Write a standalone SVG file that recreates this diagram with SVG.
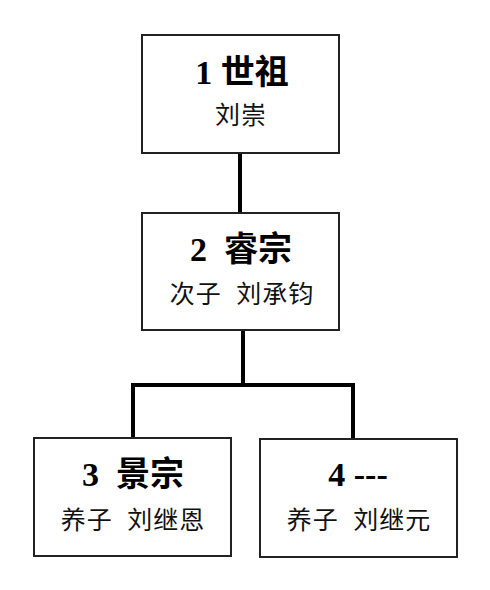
<svg xmlns="http://www.w3.org/2000/svg" width="490" height="590" viewBox="0 0 490 590">
<style>
.box{fill:#fff;stroke:#222;stroke-width:2}
.t{font-family:"Liberation Serif","Noto Sans CJK SC",serif;font-weight:bold;font-size:34px;fill:#000;text-anchor:middle}
.s{font-family:"Liberation Serif","Noto Sans CJK SC",serif;font-size:25px;letter-spacing:1px;fill:#111;text-anchor:middle}
.c{fill:none;stroke:#000;stroke-width:4}
</style>
<rect width="490" height="590" fill="#fff"/>
<g id="connectors">
<line class="c" x1="240" y1="153" x2="240" y2="213"/>
<polyline class="c" points="133,438 133,385 353,385 353,439"/>
<line class="c" x1="243" y1="330" x2="243" y2="385"/>
</g>
<g id="n1">
<rect class="box" x="142" y="35" width="197" height="118"/>
<text class="t" x="242" y="84">1 世祖</text>
<text class="s" x="241" y="124">刘崇</text>
</g>
<g id="n2">
<rect class="box" x="142" y="213" width="197" height="117"/>
<text class="t" x="241" y="261" xml:space="preserve">2  睿宗</text>
<text class="s" x="242" y="303" xml:space="preserve">次子  刘承钧</text>
</g>
<g id="n3">
<rect class="box" x="34" y="438" width="197" height="118"/>
<text class="t" x="133" y="486" xml:space="preserve">3  景宗</text>
<text class="s" x="133" y="529" xml:space="preserve">养子  刘继恩</text>
</g>
<g id="n4">
<rect class="box" x="260" y="439" width="197" height="118"/>
<text class="t" x="358" y="486">4 ---</text>
<text class="s" x="359" y="529" xml:space="preserve">养子  刘继元</text>
</g>
</svg>
